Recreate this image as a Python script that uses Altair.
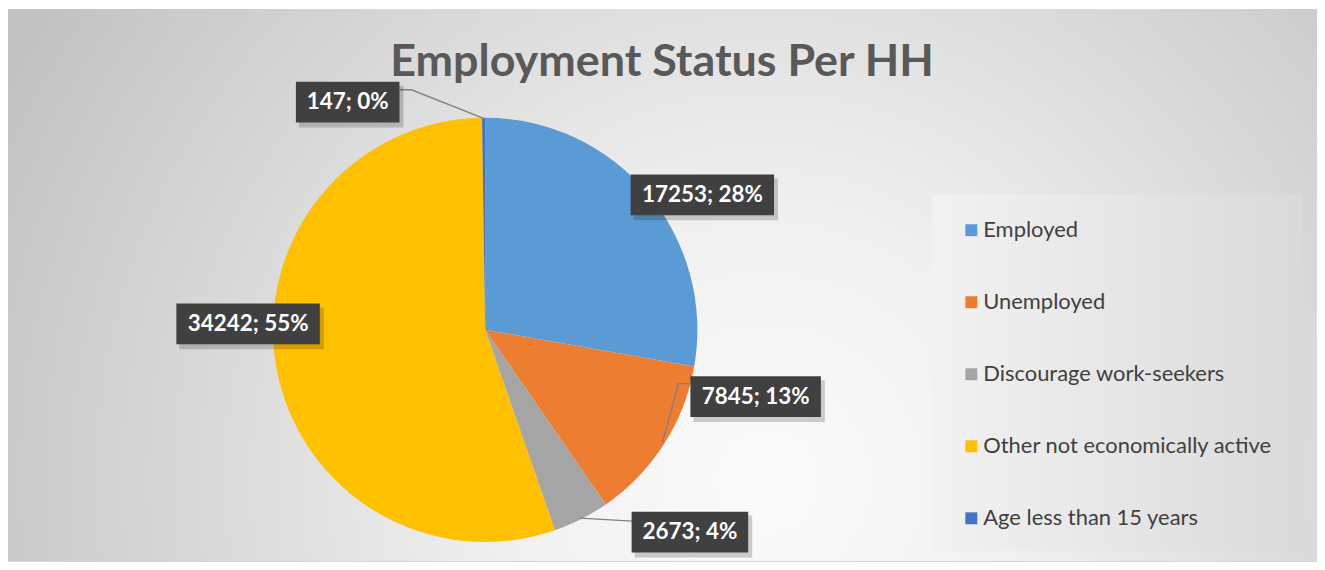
import altair as alt
import pandas as pd

# ---- data ----
categories = ["Employed", "Unemployed", "Discourage work-seekers",
              "Other not economically active", "Age less than 15 years"]
values = [17253, 7845, 2673, 34242, 147]
colors = ["#5B9BD5", "#ED7D31", "#A5A5A5", "#FFC000", "#4472C4"]
title_text = "Employment Status Per HH"

total = sum(values)
label_text = [f"{v}; {round(v / total * 100)}%" for v in values]

# ---- layout (pixels, view coordinates) ----
W, H = 1314, 554
CX, CY, R = 479, 322, 213
label_cx = [697, 750.5, 684.5, 241, 341]
label_cy = [186.5, 389, 525, 316, 93.5]
label_w = [144, 131, 117, 144, 104]
label_h = 41
leader_x = [[393, 405, 478], [685, 673, 657], [627, 574]]
leader_y = [[81, 81, 110], [376, 376, 435], [514, 511]]

pie_df = pd.DataFrame({"category": categories, "value": values, "idx": list(range(len(values)))})

lab_df = pd.DataFrame({
    "text": label_text,
    "cx": label_cx,
    "cy": label_cy,
    "x0": [c - w / 2 for c, w in zip(label_cx, label_w)],
    "x1": [c + w / 2 for c, w in zip(label_cx, label_w)],
    "y0": [c - label_h / 2 for c in label_cy],
    "y1": [c + label_h / 2 for c in label_cy],
})
lab_df["sx0"] = lab_df["x0"] + 3
lab_df["sx1"] = lab_df["x1"] + 4
lab_df["sy0"] = lab_df["y0"] + 4
lab_df["sy1"] = lab_df["y1"] + 5

rows = []
for g, (xs, ys) in enumerate(zip(leader_x, leader_y)):
    for i, (xx, yy) in enumerate(zip(xs, ys)):
        rows.append({"grp": g, "ord": i, "x": xx, "y": yy})
line_df = pd.DataFrame(rows)

one = alt.Data(values=[{"a": 1}])

bg = alt.Chart(one).mark_rect(
    color=alt.RadialGradient(
        gradient="radial",
        stops=[alt.GradientStop(color="#fbfbfb", offset=0),
               alt.GradientStop(color="#f1f1f1", offset=0.3),
               alt.GradientStop(color="#c2c2c2", offset=1)],
        x1=0.58, y1=0.65, r1=0, x2=0.58, y2=0.65, r2=0.66)
).encode(x=alt.value(0), x2=alt.value(W), y=alt.value(0), y2=alt.value(H))

legend_box = alt.Chart(one).mark_rect(
    color=alt.LinearGradient(
        gradient="linear",
        stops=[alt.GradientStop(color="#f2f2f2", offset=0),
               alt.GradientStop(color="#dadada", offset=1)],
        x1=0, x2=1, y1=0, y2=0)
).encode(x=alt.value(928), x2=alt.value(1299), y=alt.value(186), y2=alt.value(544))

pie = alt.Chart(pie_df).mark_arc(outerRadius=R, strokeWidth=0).encode(
    theta=alt.Theta("value:Q", stack=True),
    color=alt.Color(
        "category:N",
        scale=alt.Scale(domain=categories, range=colors),
        legend=alt.Legend(
            title=None, orient="none", legendX=956, legendY=211,
            symbolType="square", symbolSize=144, symbolStrokeWidth=0,
            labelFont="Lato", labelFontSize=22, labelColor="#404040",
            rowPadding=50.3, labelOffset=1, labelLimit=400, padding=0,
        ),
    ),
    order=alt.Order("idx:Q"),
    x=alt.value(CX),
    y=alt.value(CY),
)

lines = alt.Chart(line_df).mark_line(color="#808080", strokeWidth=1.4).encode(
    x=alt.X("x:Q", scale=None, axis=None),
    y=alt.Y("y:Q", scale=None, axis=None),
    detail="grp:N",
    order="ord:Q",
)

shadows = alt.Chart(lab_df).mark_rect(color="#000000", opacity=0.18).encode(
    x=alt.X("sx0:Q", scale=None, axis=None), x2="sx1:Q",
    y=alt.Y("sy0:Q", scale=None, axis=None), y2="sy1:Q",
)

boxes = alt.Chart(lab_df).mark_rect(color="#404040").encode(
    x=alt.X("x0:Q", scale=None, axis=None), x2="x1:Q",
    y=alt.Y("y0:Q", scale=None, axis=None), y2="y1:Q",
)

texts = alt.Chart(lab_df).mark_text(
    font="Lato", fontWeight="bold", fontSize=22.5, color="white",
    align="center", baseline="middle",
).encode(
    x=alt.X("cx:Q", scale=None, axis=None),
    y=alt.Y("cy:Q", scale=None, axis=None),
    text="text:N",
)

title = alt.Chart(alt.Data(values=[{"t": title_text}])).mark_text(
    font="Lato", fontWeight="bold", fontSize=45, color="#595959",
    align="center", baseline="alphabetic",
).encode(x=alt.value(656.5), y=alt.value(67), text="t:N")

chart = alt.layer(bg, legend_box, pie, lines, shadows, boxes, texts, title).properties(
    width=W, height=H, padding=0,
    autosize=alt.AutoSizeParams(type="none"),
).configure_view(stroke="#d4d4d4")

chart.save("out.html", embed_options={"renderer": "svg", "actions": False})
